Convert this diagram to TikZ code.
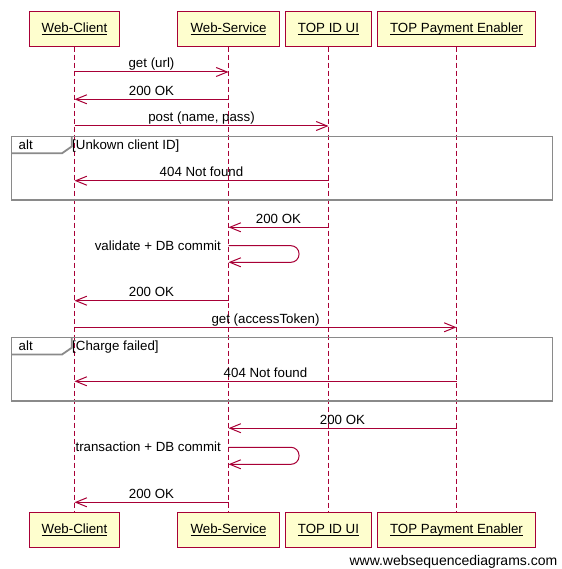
\documentclass[tikz,border=0pt]{standalone}
\usepackage{fontspec}
\setmainfont{Liberation Sans}
\usetikzlibrary{arrows.meta}

\definecolor{wsdred}{HTML}{A80036}
\definecolor{wsdfill}{HTML}{FEFECE}
\definecolor{wsdgray}{HTML}{8A8A8A}

% souligne sans tenir compte des descendantes
\newcommand{\actorname}[1]{\underline{\raisebox{0pt}[\height][0pt]{#1}}}

\tikzset{
  actor/.style={draw=wsdred, fill=wsdfill, line width=1pt,
    minimum height=35pt, inner xsep=12.7pt, font=\fontsize{13.3}{15}\selectfont},
  lifeline/.style={draw=wsdred, line width=1pt, dash pattern=on 5pt off 3pt},
  msg/.style={draw=wsdred, line width=1pt, -{Straight Barb[length=11pt,width=9pt]}},
  lbl/.style={font=\fontsize{13.3}{15}\selectfont, text height=10pt, text depth=3pt, inner sep=0.5pt},
  altframe/.style={draw=wsdgray, line width=1.8pt},
}

\begin{document}
\begin{tikzpicture}[x=1pt, y=-1pt]
\useasboundingbox (0,0) rectangle (561,569);

% Acteurs
\node[actor] (wc) at (74.5,28.7) {\actorname{Web-Client}};
\node[actor] (ws) at (228.5,28.7) {\actorname{Web-Service}};
\node[actor] (idui) at (328.5,28.7) {\actorname{TOP ID UI}};
\node[actor] (pay) at (456.5,28.7) {\actorname{TOP Payment Enabler}};

\node[actor] (wcB) at (74.5,529.7) {\actorname{Web-Client}};
\node[actor] (wsB) at (228.5,529.7) {\actorname{Web-Service}};
\node[actor] (iduiB) at (328.5,529.7) {\actorname{TOP ID UI}};
\node[actor] (payB) at (456.5,529.7) {\actorname{TOP Payment Enabler}};

% Lignes de vie
\draw[lifeline] (wc) -- (wcB);
\draw[lifeline] (ws) -- (wsB);
\draw[lifeline] (idui) -- (iduiB);
\draw[lifeline] (pay) -- (payB);

% Cadres alt
\draw[altframe] (11.5,136.5) rectangle (552.5,200);
\draw[altframe] (11.5,153.3) -- (62,153.3) -- (71.7,146.5) -- (71.7,136.5);
\node[lbl, anchor=base west] (alt1) at (18,149.5) {alt};
\node[lbl, anchor=base west] (guard1) at (71.5,149.5) {[Unkown client ID]};

\draw[altframe] (11.5,337.5) rectangle (552.5,401);
\draw[altframe] (11.5,354.5) -- (62,354.5) -- (71.7,347.8) -- (71.7,337.5);
\node[lbl, anchor=base west] (alt2) at (18,350.8) {alt};
\node[lbl, anchor=base west] (guard2) at (71.5,350.8) {[Charge failed]};

% Messages
\draw[msg] (wc |- 0,72) -- node[lbl, above] {get (url)} (ws |- 0,72);
\draw[msg] (ws |- 0,99.3) -- node[lbl, above] {200 OK} (wc |- 0,99.3);
\draw[msg] (wc |- 0,126) -- node[lbl, above] {post (name, pass)} (idui |- 0,126);
\draw[msg] (idui |- 0,180.7) -- node[lbl, above] {404 Not found} (wc |- 0,180.7);
\draw[msg] (idui |- 0,227.3) -- node[lbl, above] {200 OK} (ws |- 0,227.3);

\draw[msg, rounded corners=8pt] (ws |- 0,245.7) -- ++(70.5,0) -- ++(0,16.6) -- (ws |- 0,262.3);
\node[lbl, anchor=east] (val) at ([xshift=-7pt]ws |- 0,246.5) {validate + DB commit};

\draw[msg] (ws |- 0,300.7) -- node[lbl, above] {200 OK} (wc |- 0,300.7);
\draw[msg] (wc |- 0,327.3) -- node[lbl, above] {get (accessToken)} (pay |- 0,327.3);
\draw[msg] (pay |- 0,381.3) -- node[lbl, above] {404 Not found} (wc |- 0,381.3);
\draw[msg] (pay |- 0,428.2) -- node[lbl, above] {200 OK} (ws |- 0,428.2);

\draw[msg, rounded corners=8pt] (ws |- 0,447.3) -- ++(70.5,0) -- ++(0,17) -- (ws |- 0,464.3);
\node[lbl, anchor=east] (trans) at ([xshift=-7pt]ws |- 0,448) {transaction + DB commit};

\draw[msg] (ws |- 0,502.3) -- node[lbl, above] {200 OK} (wc |- 0,502.3);

% Filigrane
\node[anchor=base east, inner sep=0pt, font=\fontsize{14}{16}\selectfont] (wm) at (557.5,565.5) {www.websequencediagrams.com};

\end{tikzpicture}
\end{document}
